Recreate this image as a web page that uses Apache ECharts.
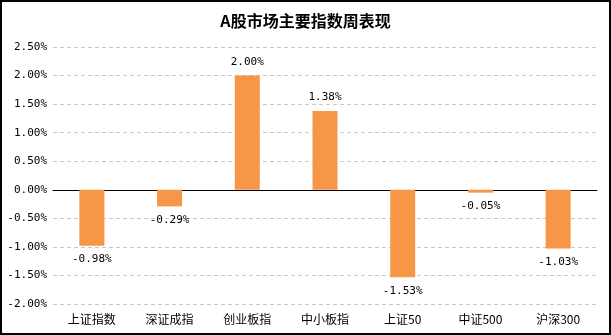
<!DOCTYPE html>
<html>
<head>
<meta charset="utf-8">
<script src="https://cdn.jsdelivr.net/npm/echarts@6/dist/echarts.min.js"></script>
<style>
  html, body { margin: 0; padding: 0; background: #fff; }
  #wrap { width: 611px; height: 335px; box-sizing: border-box; border: 2px solid #000; background: #fff; }
  #chart { width: 607px; height: 331px; }
</style>
</head>
<body>
<div id="wrap"><div id="chart"></div></div>
<script>
// Weekly performance of major A-share indices (%)
const titleText = 'A股市场主要指数周表现';
const categories = ['上证指数', '深证成指', '创业板指', '中小板指', '上证50', '中证500', '沪深300'];
const weeklyChange = [-0.98, -0.29, 2.00, 1.38, -1.53, -0.05, -1.03];
const yMin = -2.0;
const yMax = 2.5;
const yStep = 0.5;

const chart = echarts.init(document.getElementById('chart'), null, { renderer: 'canvas' });
const uiFont = '"Noto Sans CJK SC", "DejaVu Sans", sans-serif';
const numFont = '"DejaVu Sans Mono", monospace';

chart.setOption({
  animation: false,
  backgroundColor: '#ffffff',
  title: {
    text: titleText,
    left: 'center',
    top: 6,
    textStyle: { fontSize: 16, fontWeight: 'bold', color: '#000', fontFamily: uiFont }
  },
  grid: { left: 51, right: 12, top: 45, bottom: 29, containLabel: false },
  xAxis: {
    type: 'category',
    data: categories,
    axisLine: { show: true, onZero: true, lineStyle: { color: '#000', width: 1 } },
    axisTick: { show: false },
    axisLabel: { show: true, color: '#000', fontSize: 12, fontFamily: uiFont, margin: 9 },
    position: 'bottom'
  },
  yAxis: {
    type: 'value',
    min: yMin,
    max: yMax,
    interval: yStep,
    axisLine: { show: false },
    axisTick: { show: false },
    axisLabel: {
      color: '#000', fontSize: 11, fontFamily: numFont, margin: 6,
      formatter: v => v.toFixed(2) + '%'
    },
    splitLine: { show: true, lineStyle: { color: '#c8c8c8', type: [4, 3], width: 1 } }
  },
  series: [{
    type: 'bar',
    barWidth: 25,
    itemStyle: { color: '#F79646' },
    label: {
      show: true,
      color: '#000',
      fontSize: 11,
      fontFamily: numFont,
      distance: 8,
      formatter: p => p.value.toFixed(2) + '%'
    },
    // labels above positive bars, below negative ones
    data: weeklyChange.map(v => ({
      value: v,
      label: { position: v < 0 ? 'bottom' : 'top' }
    }))
  }]
});
</script>
</body>
</html>
